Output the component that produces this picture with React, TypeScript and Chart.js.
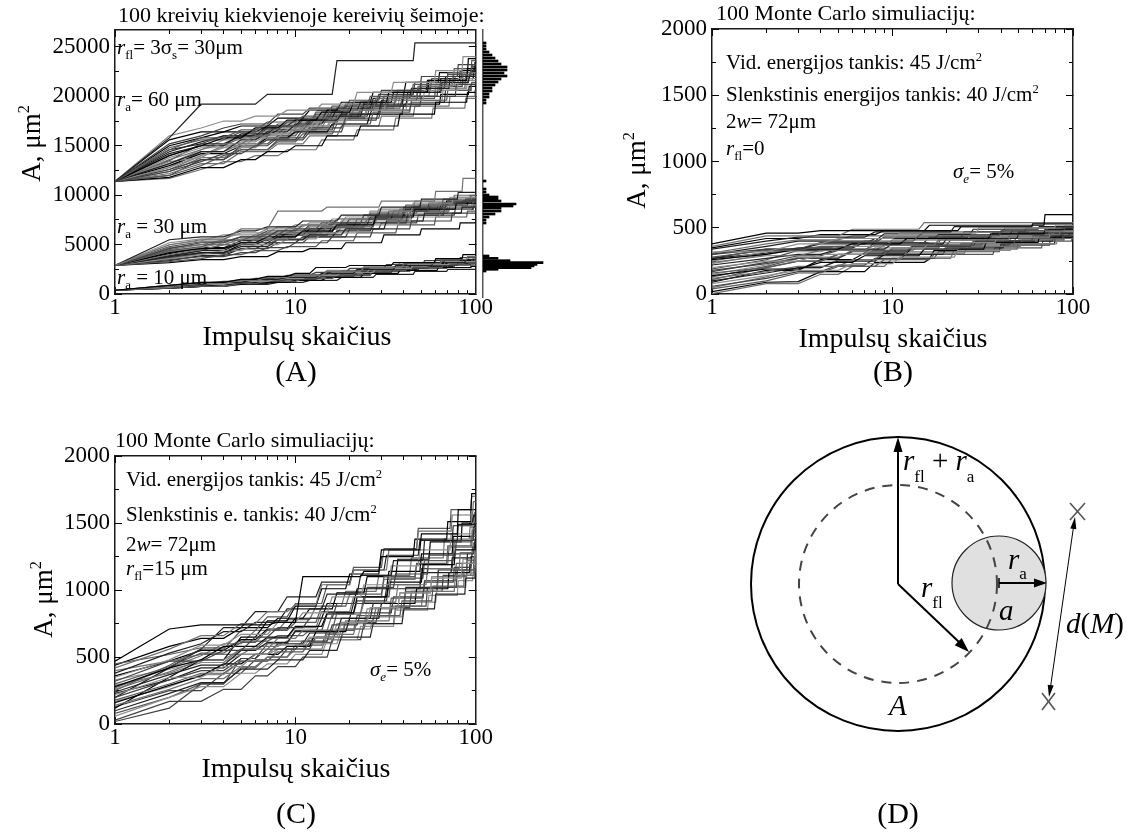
import React, { useEffect, useRef } from 'react';
import { Chart, registerables } from 'chart.js';

Chart.register(...registerables);

const SERIF = '"Liberation Serif", "Times New Roman", serif';
Chart.defaults.font.family = SERIF;

// ---------------- axis ticks ----------------
const X_MAJOR = [1, 10, 100];
const X_MINOR = [2, 3, 4, 5, 6, 7, 8, 9, 20, 30, 40, 50, 60, 70, 80, 90];
const YA_MAJOR = [0, 5000, 10000, 15000, 20000, 25000];
const YA_MINOR = [2500, 7500, 12500, 17500, 22500];
const YA_MAX = 26700;
const YBC_MAJOR = [0, 500, 1000, 1500, 2000];
const YBC_MINOR = [250, 750, 1250, 1750];
const YBC_MAX = 2000;

// ---------------- panel A: three curve families ----------------
// each run: [pulse, area (hundreds of µm²), pulse, area, ...]; all start at the family's start value at pulse 1
const A60_START = 114;
const A60_RUNS = [
  [2, 158, 3, 192, 7, 202, 17, 236, 46, 254],
  [2, 160, 3, 168, 4, 175, 6, 180, 9, 186, 14, 192, 22, 204, 35, 214, 60, 226, 85, 240],
  [2, 152, 3, 160, 4, 168, 5, 172, 8, 182, 12, 188, 20, 196, 30, 206, 50, 220, 80, 232],
  [2, 146, 3, 158, 5, 166, 7, 174, 11, 180, 16, 190, 26, 200, 45, 212, 70, 222, 95, 236],
  [2, 140, 3, 150, 4, 158, 6, 168, 9, 176, 14, 184, 21, 194, 33, 204, 55, 216, 90, 228],
  [2, 136, 3, 146, 4, 152, 6, 160, 8, 170, 12, 178, 18, 186, 28, 198, 48, 210, 75, 224],
  [2, 132, 3, 144, 5, 156, 7, 164, 10, 172, 15, 180, 24, 192, 40, 204, 65, 214, 92, 220],
  [2, 128, 3, 140, 4, 148, 6, 158, 9, 166, 13, 174, 20, 186, 32, 196, 52, 206, 80, 218],
  [2, 124, 3, 134, 4, 142, 6, 150, 8, 158, 12, 168, 19, 178, 30, 190, 50, 200, 78, 212],
  [2, 120, 3, 130, 4, 140, 5, 146, 8, 154, 11, 162, 17, 172, 27, 184, 44, 196, 70, 206, 95, 214],
  [2, 118, 3, 128, 5, 136, 7, 144, 10, 150, 15, 160, 23, 170, 38, 182, 60, 194, 90, 204],
  [2, 117, 3, 126, 4, 134, 6, 140, 9, 146, 14, 156, 22, 166, 36, 178, 58, 188, 88, 198],
  [2, 142, 3, 150, 5, 162, 8, 170, 12, 176, 18, 182, 30, 196, 48, 208, 72, 218, 98, 230],
  [2, 134, 3, 138, 4, 150, 7, 162, 10, 168, 16, 176, 25, 186, 42, 196, 66, 208, 90, 216],
  [2, 126, 3, 136, 5, 150, 7, 156, 11, 166, 17, 180, 26, 190, 40, 200, 62, 210, 85, 222],
  [2, 148, 3, 156, 5, 164, 8, 172, 13, 184, 19, 190, 31, 200, 50, 214, 76, 228, 96, 232],
  [2, 130, 3, 142, 5, 150, 7, 158, 10, 164, 16, 172, 26, 182, 40, 192, 64, 202, 92, 210],
  [2, 122, 3, 132, 5, 144, 8, 152, 12, 160, 18, 170, 30, 180, 46, 190, 72, 200, 99, 206],
  [2, 144, 3, 154, 4, 160, 7, 170, 11, 178, 17, 188, 27, 198, 44, 208, 68, 220, 94, 226],
  [2, 138, 3, 148, 5, 154, 7, 162, 11, 170, 16, 178, 25, 190, 38, 200, 60, 212, 86, 218],
  [2, 135, 3, 152, 4, 160, 6, 166, 9, 174, 13, 182, 19, 192, 29, 202, 46, 214, 70, 224, 95, 230],
  [2, 128, 3, 144, 5, 152, 8, 160, 11, 170, 17, 178, 25, 188, 39, 198, 60, 208, 88, 222],
  [2, 150, 3, 158, 4, 164, 7, 170, 10, 176, 15, 186, 23, 194, 35, 204, 54, 216, 82, 226, 99, 234],
  [2, 124, 3, 138, 5, 148, 7, 156, 10, 166, 14, 176, 21, 186, 33, 198, 50, 210, 77, 220],
  [2, 146, 3, 152, 5, 160, 8, 166, 12, 174, 18, 182, 27, 190, 42, 204, 64, 218, 93, 224],
  [2, 132, 3, 146, 4, 156, 6, 162, 9, 170, 13, 180, 20, 190, 31, 200, 48, 210, 74, 216, 97, 228],
  [2, 120, 3, 136, 5, 146, 8, 156, 12, 164, 19, 176, 29, 186, 44, 194, 68, 206, 94, 212],
  [2, 140, 3, 150, 5, 158, 7, 168, 11, 176, 16, 184, 24, 194, 37, 206, 57, 218, 84, 228],
  [2, 156, 3, 164, 5, 170, 8, 178, 12, 186, 18, 194, 27, 204, 41, 214, 63, 224, 91, 238],
  [2, 126, 3, 140, 4, 150, 7, 160, 10, 168, 15, 178, 23, 188, 36, 200, 56, 212, 83, 220],
];

const A30_START = 29;
const A30_RUNS = [
  [2, 50, 3, 55, 5, 66, 8, 84, 15, 88, 30, 94, 60, 104, 85, 117],
  [2, 55, 3, 58, 5, 64, 7, 68, 11, 74, 18, 80, 30, 88, 50, 96, 80, 103],
  [2, 50, 3, 54, 4, 60, 7, 66, 10, 70, 16, 76, 26, 84, 45, 92, 75, 98],
  [2, 46, 3, 52, 5, 58, 8, 64, 12, 70, 20, 76, 33, 84, 55, 92, 88, 96],
  [2, 44, 3, 48, 4, 54, 6, 60, 9, 66, 14, 72, 24, 80, 40, 88, 70, 94],
  [2, 42, 3, 46, 5, 52, 7, 58, 11, 64, 17, 70, 28, 78, 46, 86, 78, 92],
  [2, 40, 3, 45, 4, 50, 6, 55, 10, 62, 15, 68, 25, 76, 42, 84, 72, 90],
  [2, 38, 3, 42, 5, 48, 8, 55, 12, 60, 19, 66, 32, 74, 52, 82, 84, 88],
  [2, 36, 3, 40, 4, 44, 6, 50, 9, 56, 14, 62, 23, 70, 38, 78, 64, 86, 95, 90],
  [2, 35, 3, 38, 5, 42, 7, 47, 10, 52, 16, 58, 27, 66, 44, 74, 74, 82],
  [2, 33, 3, 36, 4, 40, 6, 44, 9, 48, 14, 54, 22, 62, 37, 70, 60, 78, 90, 84],
  [2, 32, 3, 35, 5, 38, 8, 43, 12, 46, 19, 52, 31, 60, 50, 66, 82, 72],
  [2, 47, 3, 50, 5, 56, 7, 62, 12, 68, 18, 74, 29, 82, 48, 90, 76, 100],
  [2, 39, 3, 44, 5, 52, 8, 58, 11, 63, 17, 70, 26, 78, 41, 86, 66, 92, 96, 96],
  [2, 43, 3, 47, 4, 52, 7, 56, 10, 60, 16, 66, 27, 74, 43, 82, 71, 88],
  [2, 37, 3, 41, 5, 46, 8, 52, 12, 58, 20, 66, 30, 72, 48, 80, 77, 86, 98, 92],
  [2, 48, 3, 53, 5, 58, 7, 64, 11, 70, 17, 76, 26, 82, 41, 90, 66, 96, 94, 100],
  [2, 41, 3, 47, 5, 54, 8, 60, 12, 66, 18, 72, 28, 80, 44, 88, 69, 94],
  [2, 45, 3, 50, 4, 55, 7, 61, 10, 66, 15, 72, 24, 80, 38, 86, 62, 92, 92, 98],
  [2, 34, 3, 39, 5, 46, 7, 52, 11, 58, 17, 64, 27, 72, 42, 80, 67, 86, 97, 88],
  [2, 52, 3, 56, 5, 62, 8, 68, 12, 72, 19, 78, 29, 86, 46, 94, 72, 98],
  [2, 38, 3, 44, 4, 50, 6, 56, 9, 62, 14, 68, 22, 76, 35, 84, 56, 90, 85, 94],
  [2, 44, 3, 46, 5, 50, 8, 56, 12, 62, 18, 68, 28, 76, 45, 84, 70, 88, 99, 92],
  [2, 36, 3, 42, 5, 50, 7, 56, 10, 60, 16, 68, 25, 76, 40, 84, 64, 90, 91, 94],
];

const A10_START = 4;
const A10_RUNS = [
  [2, 9, 3, 12, 5, 15, 7, 18, 10, 21, 13, 27, 20, 29, 35, 32, 60, 36, 85, 40],
  [2, 8, 3, 11, 5, 14, 7, 17, 10, 19, 15, 23, 24, 27, 40, 31, 65, 35, 90, 38],
  [2, 8, 3, 10, 4, 12, 6, 15, 9, 17, 14, 21, 22, 25, 36, 29, 58, 32, 88, 35],
  [2, 7, 3, 10, 5, 13, 8, 16, 12, 19, 18, 22, 28, 26, 45, 30, 72, 33],
  [2, 7, 3, 9, 4, 11, 6, 13, 9, 15, 14, 18, 22, 22, 35, 26, 55, 29, 80, 32],
  [2, 6, 3, 8, 5, 11, 7, 13, 11, 16, 17, 20, 27, 24, 42, 27, 66, 30, 92, 31],
  [2, 6, 3, 8, 4, 10, 6, 12, 10, 14, 15, 17, 24, 21, 38, 24, 62, 27, 94, 28],
  [2, 7, 3, 9, 5, 12, 8, 14, 12, 17, 19, 21, 30, 24, 48, 27, 76, 29],
  [2, 6, 3, 8, 5, 10, 8, 12, 12, 14, 18, 17, 28, 20, 46, 23, 70, 25],
  [2, 8, 3, 10, 5, 13, 7, 15, 10, 18, 16, 22, 26, 26, 42, 30, 68, 33, 96, 36],
  [2, 9, 3, 11, 4, 13, 6, 16, 9, 19, 13, 22, 20, 26, 32, 30, 52, 34, 82, 37],
  [2, 7, 3, 9, 4, 11, 7, 14, 11, 16, 17, 19, 27, 23, 44, 26, 70, 29, 97, 31],
  [2, 8, 3, 10, 5, 13, 8, 16, 12, 19, 18, 23, 28, 27, 44, 31, 70, 34, 98, 36],
  [2, 7, 3, 9, 4, 11, 6, 14, 9, 16, 14, 20, 22, 24, 35, 28, 56, 31, 86, 34],
  [2, 6, 3, 8, 5, 11, 8, 14, 13, 17, 20, 21, 31, 25, 49, 28, 77, 31],
  [2, 9, 3, 12, 5, 15, 7, 17, 10, 20, 15, 24, 24, 28, 38, 32, 60, 35, 92, 38],
  [2, 7, 3, 10, 5, 12, 7, 14, 11, 17, 17, 20, 26, 24, 41, 27, 66, 30, 95, 33],
  [2, 8, 3, 10, 4, 12, 7, 15, 10, 17, 16, 21, 25, 25, 40, 29, 64, 33, 93, 35],
];

// histograms of final areas (µm², count)
const HIST60_AREA = [19400, 19700, 20000, 20300, 20600, 20900, 21200, 21500, 21800, 22100, 22400, 22700, 23000, 23300, 23600, 23900, 24200, 24500, 24800, 25100, 25400];
const HIST60_COUNT = [1, 1, 2, 2, 3, 3, 4, 5, 6, 8, 7, 8, 8, 6, 5, 4, 3, 2, 1, 1, 1];
const HIST30_AREA = [7400, 7700, 8000, 8300, 8600, 8900, 9100, 9300, 9600, 9800, 10000, 10200, 10500, 10800, 11600];
const HIST30_COUNT = [1, 1, 2, 4, 6, 6, 10, 11, 6, 5, 5, 2, 1, 1, 1];
const HIST10_AREA = [2600, 2770, 2930, 3100, 3270, 3430, 3630, 3870, 4100];
const HIST10_COUNT = [1, 5, 16, 17, 18, 20, 9, 5, 2];

// ---------------- panel B: r_fl = 0 (µm²), runs [pulse, area, ...] ----------------
const B_RUNS = [
  [1, 380, 2, 460, 4, 480, 16, 520, 70, 600],
  [1, 360, 2, 440, 6, 490, 15, 540],
  [1, 340, 2, 400, 3, 430, 8, 470, 22, 510, 60, 535],
  [1, 320, 3, 380, 5, 420, 11, 460, 30, 500, 80, 520],
  [1, 300, 2, 340, 4, 390, 9, 430, 25, 470, 55, 500],
  [1, 280, 2, 330, 4, 360, 7, 400, 14, 440, 40, 480, 90, 505],
  [1, 260, 2, 300, 3, 340, 6, 380, 12, 420, 35, 455, 70, 490],
  [1, 240, 2, 290, 4, 330, 8, 370, 18, 410, 45, 450, 85, 480],
  [1, 220, 2, 270, 3, 300, 5, 340, 10, 380, 20, 420, 50, 460],
  [1, 200, 2, 250, 4, 300, 8, 350, 16, 390, 38, 430, 75, 470],
  [1, 180, 2, 230, 3, 270, 6, 320, 13, 360, 28, 400, 60, 440, 95, 455],
  [1, 160, 2, 200, 3, 250, 5, 300, 10, 340, 24, 380, 48, 420, 88, 440],
  [1, 140, 2, 190, 4, 240, 7, 290, 15, 340, 33, 390, 65, 430],
  [1, 120, 2, 170, 3, 210, 6, 260, 12, 310, 26, 360, 52, 410, 90, 450],
  [1, 100, 2, 160, 3, 200, 5, 250, 9, 300, 20, 350, 42, 400, 78, 430],
  [1, 80, 2, 140, 3, 180, 6, 230, 11, 280, 23, 330, 46, 380, 82, 425],
  [1, 60, 2, 120, 3, 170, 5, 220, 8, 270, 18, 320, 40, 370, 75, 420, 98, 440],
  [1, 40, 2, 100, 3, 160, 5, 210, 9, 260, 17, 300, 37, 350, 68, 400, 99, 430],
  [1, 20, 2, 90, 3, 95, 4, 170, 8, 240, 16, 265, 17, 330, 40, 380, 80, 440],
  [1, 5, 2, 80, 4, 150, 6, 210, 10, 270, 22, 340, 50, 410, 90, 460],
  [1, 300, 2, 360, 3, 400, 9, 455, 28, 490, 65, 510],
  [1, 250, 2, 320, 5, 360, 10, 410, 27, 445, 58, 475],
  [1, 190, 2, 260, 3, 330, 8, 390, 19, 430, 50, 470, 86, 490],
  [1, 130, 2, 210, 3, 270, 6, 330, 13, 370, 32, 420, 70, 450],
  [1, 350, 2, 420, 4, 450, 9, 480, 24, 510, 60, 530],
  [1, 310, 2, 380, 3, 410, 6, 440, 15, 470, 42, 500, 90, 515],
  [1, 270, 2, 340, 4, 380, 8, 420, 18, 450, 46, 480, 88, 495],
  [1, 230, 2, 300, 3, 340, 6, 380, 12, 410, 30, 445, 66, 470],
  [1, 170, 2, 240, 3, 290, 5, 330, 9, 370, 21, 410, 44, 440, 84, 465],
  [1, 110, 2, 200, 3, 250, 5, 300, 10, 350, 19, 390, 40, 430, 80, 455],
  [1, 90, 2, 180, 4, 260, 7, 310, 13, 360, 29, 400, 62, 440, 95, 460],
  [1, 50, 2, 130, 3, 200, 5, 260, 9, 320, 20, 370, 45, 420, 85, 445],
  [1, 270, 2, 310, 3, 350, 7, 390, 16, 430, 36, 460, 73, 485],
  [1, 150, 2, 220, 3, 280, 6, 330, 14, 380, 34, 420, 64, 450, 94, 470],
];

// ---------------- panel C: r_fl = 15 µm (µm²), runs [pulse, area, ...] ----------------
const C_RUNS = [
  [1, 470, 2, 710, 3, 740, 8, 760, 11, 1100, 24, 1140, 30, 1300, 50, 1420, 80, 1600, 95, 1720],
  [1, 420, 2, 560, 3, 660, 5, 750, 7, 840, 10, 890, 14, 1040, 21, 1150, 33, 1300, 48, 1440, 74, 1560, 97, 1660],
  [1, 380, 2, 530, 3, 600, 4, 690, 6, 760, 9, 860, 15, 970, 23, 1110, 35, 1220, 52, 1370, 80, 1490, 99, 1580],
  [1, 350, 2, 480, 3, 590, 5, 670, 8, 760, 11, 830, 16, 950, 24, 1040, 34, 1180, 49, 1300, 73, 1420, 96, 1500],
  [1, 320, 2, 470, 4, 550, 6, 650, 8, 720, 12, 790, 17, 900, 25, 1020, 36, 1120, 55, 1260, 78, 1370, 98, 1450],
  [1, 300, 2, 430, 3, 530, 5, 610, 7, 700, 10, 760, 14, 880, 20, 970, 31, 1100, 47, 1200, 70, 1330, 94, 1400],
  [1, 280, 2, 420, 3, 480, 4, 580, 7, 650, 10, 730, 15, 830, 22, 950, 33, 1060, 51, 1190, 77, 1300, 99, 1380],
  [1, 260, 2, 390, 3, 480, 5, 560, 8, 640, 11, 700, 16, 820, 24, 910, 37, 1040, 54, 1160, 82, 1280, 97, 1350],
  [1, 240, 2, 370, 3, 440, 5, 550, 7, 610, 10, 690, 14, 790, 21, 900, 32, 1010, 50, 1130, 74, 1240, 96, 1320],
  [1, 220, 2, 350, 4, 430, 6, 520, 8, 590, 12, 650, 18, 760, 26, 870, 38, 980, 57, 1090, 84, 1200, 99, 1280],
  [1, 200, 2, 330, 3, 400, 5, 490, 7, 560, 11, 620, 16, 740, 23, 830, 35, 950, 52, 1060, 76, 1170, 95, 1250],
  [1, 180, 2, 300, 3, 380, 5, 470, 8, 540, 12, 610, 17, 710, 25, 810, 39, 920, 58, 1030, 86, 1150, 100, 1220],
  [1, 160, 2, 290, 3, 360, 4, 450, 6, 520, 9, 580, 13, 690, 20, 790, 30, 900, 47, 1010, 71, 1130, 93, 1200],
  [1, 140, 2, 260, 3, 340, 5, 430, 7, 500, 10, 560, 15, 670, 22, 770, 34, 880, 51, 990, 77, 1110, 98, 1180],
  [1, 100, 2, 230, 3, 310, 5, 410, 8, 480, 12, 550, 18, 650, 27, 750, 40, 860, 60, 970, 88, 1090, 99, 1160],
  [1, 60, 2, 200, 3, 280, 5, 380, 7, 450, 10, 520, 15, 630, 23, 730, 36, 850, 55, 960, 80, 1070, 97, 1150],
  [1, 30, 2, 170, 4, 260, 6, 360, 8, 430, 11, 500, 16, 630, 24, 750, 36, 880, 54, 1020, 79, 1150, 98, 1240],
  [1, 450, 2, 520, 3, 570, 5, 620, 8, 660, 12, 700, 17, 830, 24, 950, 34, 1090, 52, 1220, 76, 1360, 96, 1450],
  [1, 120, 2, 350, 3, 480, 5, 650, 7, 770, 10, 880, 14, 1010, 20, 1120, 30, 1250, 46, 1380, 70, 1510, 94, 1600],
  [1, 400, 2, 470, 3, 520, 6, 580, 9, 620, 13, 650, 19, 770, 28, 870, 41, 990, 62, 1100, 90, 1220, 99, 1300],
  [1, 200, 2, 420, 3, 560, 4, 720, 6, 840, 9, 950, 14, 1060, 21, 1150, 32, 1260, 49, 1370, 75, 1480, 97, 1550],
  [1, 330, 2, 410, 3, 460, 5, 520, 8, 560, 12, 600, 18, 710, 27, 800, 40, 910, 61, 1020, 89, 1130, 100, 1200],
  [1, 20, 2, 120, 3, 300, 5, 490, 7, 600, 10, 700, 15, 820, 22, 920, 33, 1040, 50, 1160, 75, 1270, 98, 1350],
  [1, 250, 2, 440, 3, 560, 5, 700, 7, 800, 10, 900, 15, 1040, 21, 1170, 31, 1310, 48, 1460, 73, 1600, 95, 1700],
  [1, 360, 2, 470, 3, 550, 5, 630, 7, 710, 10, 790, 15, 900, 22, 1010, 33, 1140, 50, 1270, 75, 1400, 98, 1480],
  [1, 290, 2, 380, 3, 460, 5, 560, 7, 640, 10, 720, 14, 840, 21, 950, 31, 1080, 47, 1190, 71, 1320, 96, 1420],
  [1, 230, 2, 330, 3, 420, 5, 520, 8, 600, 12, 680, 18, 790, 27, 900, 41, 1020, 62, 1150, 90, 1280],
  [1, 170, 2, 280, 3, 370, 5, 470, 8, 560, 12, 640, 17, 750, 25, 860, 38, 980, 57, 1100, 85, 1230, 99, 1290],
  [1, 130, 2, 250, 4, 380, 6, 480, 9, 560, 13, 650, 19, 760, 29, 870, 44, 990, 66, 1110, 94, 1250],
  [1, 80, 2, 200, 3, 300, 5, 420, 7, 500, 10, 590, 15, 700, 22, 810, 34, 940, 52, 1070, 78, 1200, 99, 1260],
  [1, 440, 2, 580, 3, 640, 5, 720, 8, 790, 12, 860, 17, 980, 25, 1100, 37, 1230, 56, 1360, 84, 1500, 97, 1560],
  [1, 270, 2, 420, 3, 510, 4, 600, 6, 700, 9, 780, 13, 880, 19, 990, 29, 1110, 44, 1240, 67, 1380, 93, 1470],
];

const PALETTE = ['#000000', '#707070', '#202020', '#8c8c8c', '#404040', '#575757'];

type Pt = { x: number; y: number };

function runToPoints(run: number[], scale: number, start?: number): Pt[] {
  const pts: Pt[] = [];
  let i = 0;
  let lastX = 1;
  let lastY: number;
  if (start === undefined) {
    lastY = run[1];
    i = 2;
  } else {
    lastY = start;
  }
  pts.push({ x: 1, y: lastY * scale });
  for (; i < run.length; i += 2) {
    const n = run[i];
    const v = run[i + 1];
    if (n - 1 > lastX) pts.push({ x: n - 1, y: lastY * scale });
    pts.push({ x: n, y: v * scale });
    lastX = n;
    lastY = v;
  }
  if (lastX < 100) pts.push({ x: 100, y: lastY * scale });
  return pts;
}

function lineDatasets(runs: number[][], scale: number, start: number | undefined, offset: number) {
  return runs.map((run, i) => ({
    data: runToPoints(run, scale, start),
    borderColor: PALETTE[(i + offset) % PALETTE.length],
    borderWidth: 1.2,
    pointRadius: 0,
    pointHoverRadius: 0,
    fill: false,
    tension: 0,
    xAxisID: 'x',
    yAxisID: 'y',
  }));
}

type Frame = { left: number; right: number; top: number; bottom: number; yMax: number; yMajor: number[]; yMinor: number[] };

function scalesFor(f: Frame) {
  const tickFont = { family: SERIF, size: 23 };
  const major = { drawOnChartArea: false, drawTicks: true, tickLength: -7, color: '#000', lineWidth: 1 };
  const minor = { drawOnChartArea: false, drawTicks: true, tickLength: -4, color: '#000', lineWidth: 1 };
  const frame = { display: true, color: '#1a1a1a', width: 1.5 };
  const hidden = { display: false };
  const setTicks = (vals: number[]) => (s: any) => {
    s.ticks = vals.map((v) => ({ value: v }));
  };
  const size = (dim: 'width' | 'height', v: number) => (s: any) => {
    s[dim] = v;
  };
  const xBase = { type: 'logarithmic', min: 1, max: 100, axis: 'x' };
  const yBase = { type: 'linear', min: 0, max: f.yMax, axis: 'y' };
  return {
    x: {
      ...xBase, position: 'bottom', weight: 1,
      afterBuildTicks: setTicks(X_MAJOR), afterFit: size('height', f.bottom),
      grid: major, border: frame,
      ticks: { autoSkip: false, maxRotation: 0, padding: 7, color: '#000', font: tickFont, callback: (v: any) => String(v) },
    },
    xm: {
      ...xBase, position: 'bottom', weight: 0,
      afterBuildTicks: setTicks(X_MINOR), afterFit: size('height', 0),
      grid: minor, border: hidden, ticks: { display: false },
    },
    xt: {
      ...xBase, position: 'top', weight: 1,
      afterBuildTicks: setTicks(X_MAJOR), afterFit: size('height', f.top),
      grid: major, border: frame, ticks: { display: false },
    },
    xtm: {
      ...xBase, position: 'top', weight: 0,
      afterBuildTicks: setTicks(X_MINOR), afterFit: size('height', 0),
      grid: minor, border: hidden, ticks: { display: false },
    },
    y: {
      ...yBase, position: 'left', weight: 1,
      afterBuildTicks: setTicks(f.yMajor), afterFit: size('width', f.left),
      grid: major, border: frame,
      ticks: { autoSkip: false, padding: 12, color: '#000', font: tickFont, callback: (v: any) => String(v) },
    },
    ym: {
      ...yBase, position: 'left', weight: 0,
      afterBuildTicks: setTicks(f.yMinor), afterFit: size('width', 0),
      grid: minor, border: hidden, ticks: { display: false },
    },
    yr: {
      ...yBase, position: 'right', weight: 1,
      afterBuildTicks: setTicks(f.yMajor), afterFit: size('width', f.right),
      grid: major, border: frame, ticks: { display: false },
    },
    yrm: {
      ...yBase, position: 'right', weight: 0,
      afterBuildTicks: setTicks(f.yMinor), afterFit: size('width', 0),
      grid: minor, border: hidden, ticks: { display: false },
    },
  };
}

function lineConfig(datasets: any[], frame: Frame): any {
  return {
    type: 'line',
    data: { datasets },
    options: {
      responsive: false,
      animation: false,
      events: [],
      layout: { padding: 0 },
      plugins: { legend: { display: false }, tooltip: { enabled: false }, title: { display: false } },
      scales: scalesFor(frame),
    },
  };
}

function histConfig(): any {
  const toPts = (areas: number[], counts: number[]) => areas.map((a, i) => ({ x: counts[i], y: a }));
  const data = [
    ...toPts(HIST10_AREA, HIST10_COUNT),
    ...toPts(HIST30_AREA, HIST30_COUNT),
    ...toPts(HIST60_AREA, HIST60_COUNT),
  ];
  return {
    type: 'bar',
    data: {
      datasets: [{ data, backgroundColor: '#000', borderWidth: 0, barThickness: 2, grouped: false }],
    },
    options: {
      indexAxis: 'y',
      responsive: false,
      animation: false,
      events: [],
      layout: { padding: { top: 30, bottom: 23, left: 0, right: 5 } },
      plugins: { legend: { display: false }, tooltip: { enabled: false } },
      scales: {
        y: {
          type: 'linear', min: 0, max: YA_MAX, position: 'left', offset: false,
          afterFit: (s: any) => { s.width = 5; },
          ticks: { display: false }, grid: { display: false },
          border: { display: true, color: '#555', width: 1.5 },
        },
        x: { type: 'linear', min: 0, max: 33.33, display: false },
      },
    },
  };
}

function ChartBox({ left, top, width, height, make }: { left: number; top: number; width: number; height: number; make: () => any }) {
  const ref = useRef<HTMLCanvasElement>(null);
  useEffect(() => {
    const chart = new Chart(ref.current as HTMLCanvasElement, make());
    return () => chart.destroy();
  }, []);
  return <canvas ref={ref} width={width} height={height} style={{ position: 'absolute', left, top, width, height }} />;
}

const Sub = ({ children, size = 0.62 }: any) => (
  <span style={{ fontSize: `${size}em`, position: 'relative', top: '0.32em' }}>{children}</span>
);
const Sup = ({ children }: any) => (
  <span style={{ fontSize: '0.6em', position: 'relative', top: '-0.7em' }}>{children}</span>
);

function Txt({ x, base, size, children, center }: any) {
  const s: React.CSSProperties = {
    position: 'absolute', top: base - 0.837 * size, fontSize: size, lineHeight: 1,
    whiteSpace: 'nowrap', fontFamily: SERIF, color: '#000',
  };
  if (center) {
    s.left = x - 300; s.width = 600; s.textAlign = 'center';
  } else {
    s.left = x;
  }
  return <div style={s}>{children}</div>;
}

function YTitle({ cx, cy }: { cx: number; cy: number }) {
  const size = 27;
  return (
    <div style={{
      position: 'absolute', left: cx - 70, top: cy - size / 2, width: 140, height: size, lineHeight: 1,
      fontSize: size, textAlign: 'center', transform: 'rotate(-90deg)', whiteSpace: 'nowrap', fontFamily: SERIF,
    }}>
      A, μm<Sup>2</Sup>
    </div>
  );
}

function Diagram() {
  const it = { fontStyle: 'italic' as const };
  return (
    <svg width={1131} height={835} style={{ position: 'absolute', left: 0, top: 0 }} fontFamily={SERIF}>
      <circle cx={898} cy={584} r={147} fill="none" stroke="#000" strokeWidth={2} />
      <circle cx={999} cy={583} r={47} fill="#e0e0e0" stroke="#222" strokeWidth={1.2} />
      <circle cx={898} cy={584} r={99} fill="none" stroke="#444" strokeWidth={2} strokeDasharray="10 8" />
      {/* vertical arrow r_fl + r_a */}
      <line x1={898} y1={584} x2={898} y2={448} stroke="#000" strokeWidth={2} />
      <polygon points="898,437 893.5,452 902.5,452" fill="#000" />
      {/* diagonal arrow r_fl */}
      <line x1={898} y1={584} x2={960} y2={643} stroke="#000" strokeWidth={2} />
      <polygon points="969,652 954.7,645.2 961.7,638.0" fill="#000" />
      {/* r_a arrow */}
      <line x1={999} y1={578} x2={999} y2={588} stroke="#000" strokeWidth={1.5} />
      <line x1={999} y1={583} x2={1036} y2={583} stroke="#000" strokeWidth={2} />
      <polygon points="1047,583 1034,578.5 1034,587.5" fill="#000" />
      {/* d(M) */}
      <line x1={1073.5} y1={527} x2={1050.5} y2={687} stroke="#000" strokeWidth={1} />
      <polygon points="1075,517 1070.3,528.5 1076.3,529.3" fill="#000" />
      <polygon points="1049,697 1053.7,685.5 1047.7,684.7" fill="#000" />
      <g stroke="#555" strokeWidth={1.6}>
        <line x1={1070} y1={503} x2={1085} y2={520} />
        <line x1={1070} y1={520} x2={1085} y2={503} />
        <line x1={1042} y1={693} x2={1055} y2={710} />
        <line x1={1042} y1={710} x2={1055} y2={693} />
      </g>
      <text x={903} y={470} fontSize={29}>
        <tspan style={it}>r</tspan>
        <tspan fontSize={17} dy={12}>fl</tspan>
        <tspan dy={-12}> + </tspan>
        <tspan style={it}>r</tspan>
        <tspan fontSize={17} dy={12}>a</tspan>
      </text>
      <text x={1008} y={569} fontSize={29}>
        <tspan style={it}>r</tspan>
        <tspan fontSize={17} dy={10}>a</tspan>
      </text>
      <text x={921} y={597} fontSize={29}>
        <tspan style={it}>r</tspan>
        <tspan fontSize={17} dy={11}>fl</tspan>
      </text>
      <text x={999} y={620} fontSize={29} style={it}>a</text>
      <text x={889} y={715} fontSize={29} style={it}>A</text>
      <text x={1066} y={633} fontSize={29}>
        <tspan style={it}>d</tspan>
        <tspan>(</tspan>
        <tspan style={it}>M</tspan>
        <tspan>)</tspan>
      </text>
    </svg>
  );
}

const FRAME_A: Frame = { left: 115, right: 21, top: 30, bottom: 23, yMax: YA_MAX, yMajor: YA_MAJOR, yMinor: YA_MINOR };
const FRAME_B: Frame = { left: 112, right: 58, top: 29, bottom: 23, yMax: YBC_MAX, yMajor: YBC_MAJOR, yMinor: YBC_MINOR };
const FRAME_C: Frame = { left: 115, right: 21, top: 36, bottom: 24, yMax: YBC_MAX, yMajor: YBC_MAJOR, yMinor: YBC_MINOR };

export default function App() {
  const makeA = () =>
    lineConfig(
      [
        ...lineDatasets(A10_RUNS, 100, A10_START, 0),
        ...lineDatasets(A30_RUNS, 100, A30_START, 1),
        ...lineDatasets(A60_RUNS, 100, A60_START, 2),
      ],
      FRAME_A,
    );
  const makeB = () => lineConfig(lineDatasets(B_RUNS, 1, undefined, 0), FRAME_B);
  const makeC = () => lineConfig(lineDatasets(C_RUNS, 1, undefined, 0), FRAME_C);

  return (
    <div style={{ position: 'absolute', left: 0, top: 0, width: 1131, height: 835, background: '#fff', overflow: 'hidden', fontFamily: SERIF }}>
      <ChartBox left={0} top={0} width={500} height={320} make={makeA} />
      <ChartBox left={478} top={0} width={110} height={320} make={histConfig} />
      <ChartBox left={600} top={0} width={531} height={320} make={makeB} />
      <ChartBox left={0} top={420} width={500} height={330} make={makeC} />
      <Diagram />

      {/* Panel A texts */}
      <Txt x={118} base={22} size={22}>100 kreivių kiekvienoje kereivių šeimoje:</Txt>
      <Txt x={117} base={55} size={21}><i>r</i><Sub>fl</Sub>= 3σ<Sub>s</Sub>= 30μm</Txt>
      <Txt x={117} base={107} size={21}><i>r</i><Sub>a</Sub>= 60 μm</Txt>
      <Txt x={117} base={234} size={21}><i>r</i><Sub>a</Sub> = 30 μm</Txt>
      <Txt x={117} base={285} size={21}><i>r</i><Sub>a</Sub> = 10 μm</Txt>
      <Txt x={297} base={345} size={28} center>Impulsų skaičius</Txt>
      <YTitle cx={31} cy={143} />
      <Txt x={296} base={381} size={30} center>(A)</Txt>

      {/* Panel B texts */}
      <Txt x={716} base={20} size={22}>100 Monte Carlo simuliacijų:</Txt>
      <Txt x={726} base={70} size={21}>Vid. energijos tankis: 45 J/cm<Sup>2</Sup></Txt>
      <Txt x={726} base={102} size={21}>Slenkstinis energijos tankis: 40 J/cm<Sup>2</Sup></Txt>
      <Txt x={726} base={129} size={21}>2<i>w</i>= 72μm</Txt>
      <Txt x={726} base={156} size={21}><i>r</i><Sub>fl</Sub>=0</Txt>
      <Txt x={953} base={179} size={21}><i>σ</i><Sub><i>e</i></Sub>= 5%</Txt>
      <Txt x={893} base={347} size={28} center>Impulsų skaičius</Txt>
      <YTitle cx={636} cy={170} />
      <Txt x={893} base={381} size={30} center>(B)</Txt>

      {/* Panel C texts */}
      <Txt x={115} base={447} size={22}>100 Monte Carlo simuliacijų:</Txt>
      <Txt x={126} base={487} size={21}>Vid. energijos tankis: 45 J/cm<Sup>2</Sup></Txt>
      <Txt x={126} base={522} size={21}>Slenkstinis e. tankis: 40 J/cm<Sup>2</Sup></Txt>
      <Txt x={126} base={552} size={21}>2<i>w</i>= 72μm</Txt>
      <Txt x={126} base={576} size={21}><i>r</i><Sub>fl</Sub>=15 μm</Txt>
      <Txt x={370} base={677} size={21}><i>σ</i><Sub><i>e</i></Sub>= 5%</Txt>
      <Txt x={296} base={777} size={28} center>Impulsų skaičius</Txt>
      <YTitle cx={43} cy={599} />
      <Txt x={296} base={823} size={30} center>(C)</Txt>

      {/* Panel D label */}
      <Txt x={898} base={823} size={30} center>(D)</Txt>
    </div>
  );
}
